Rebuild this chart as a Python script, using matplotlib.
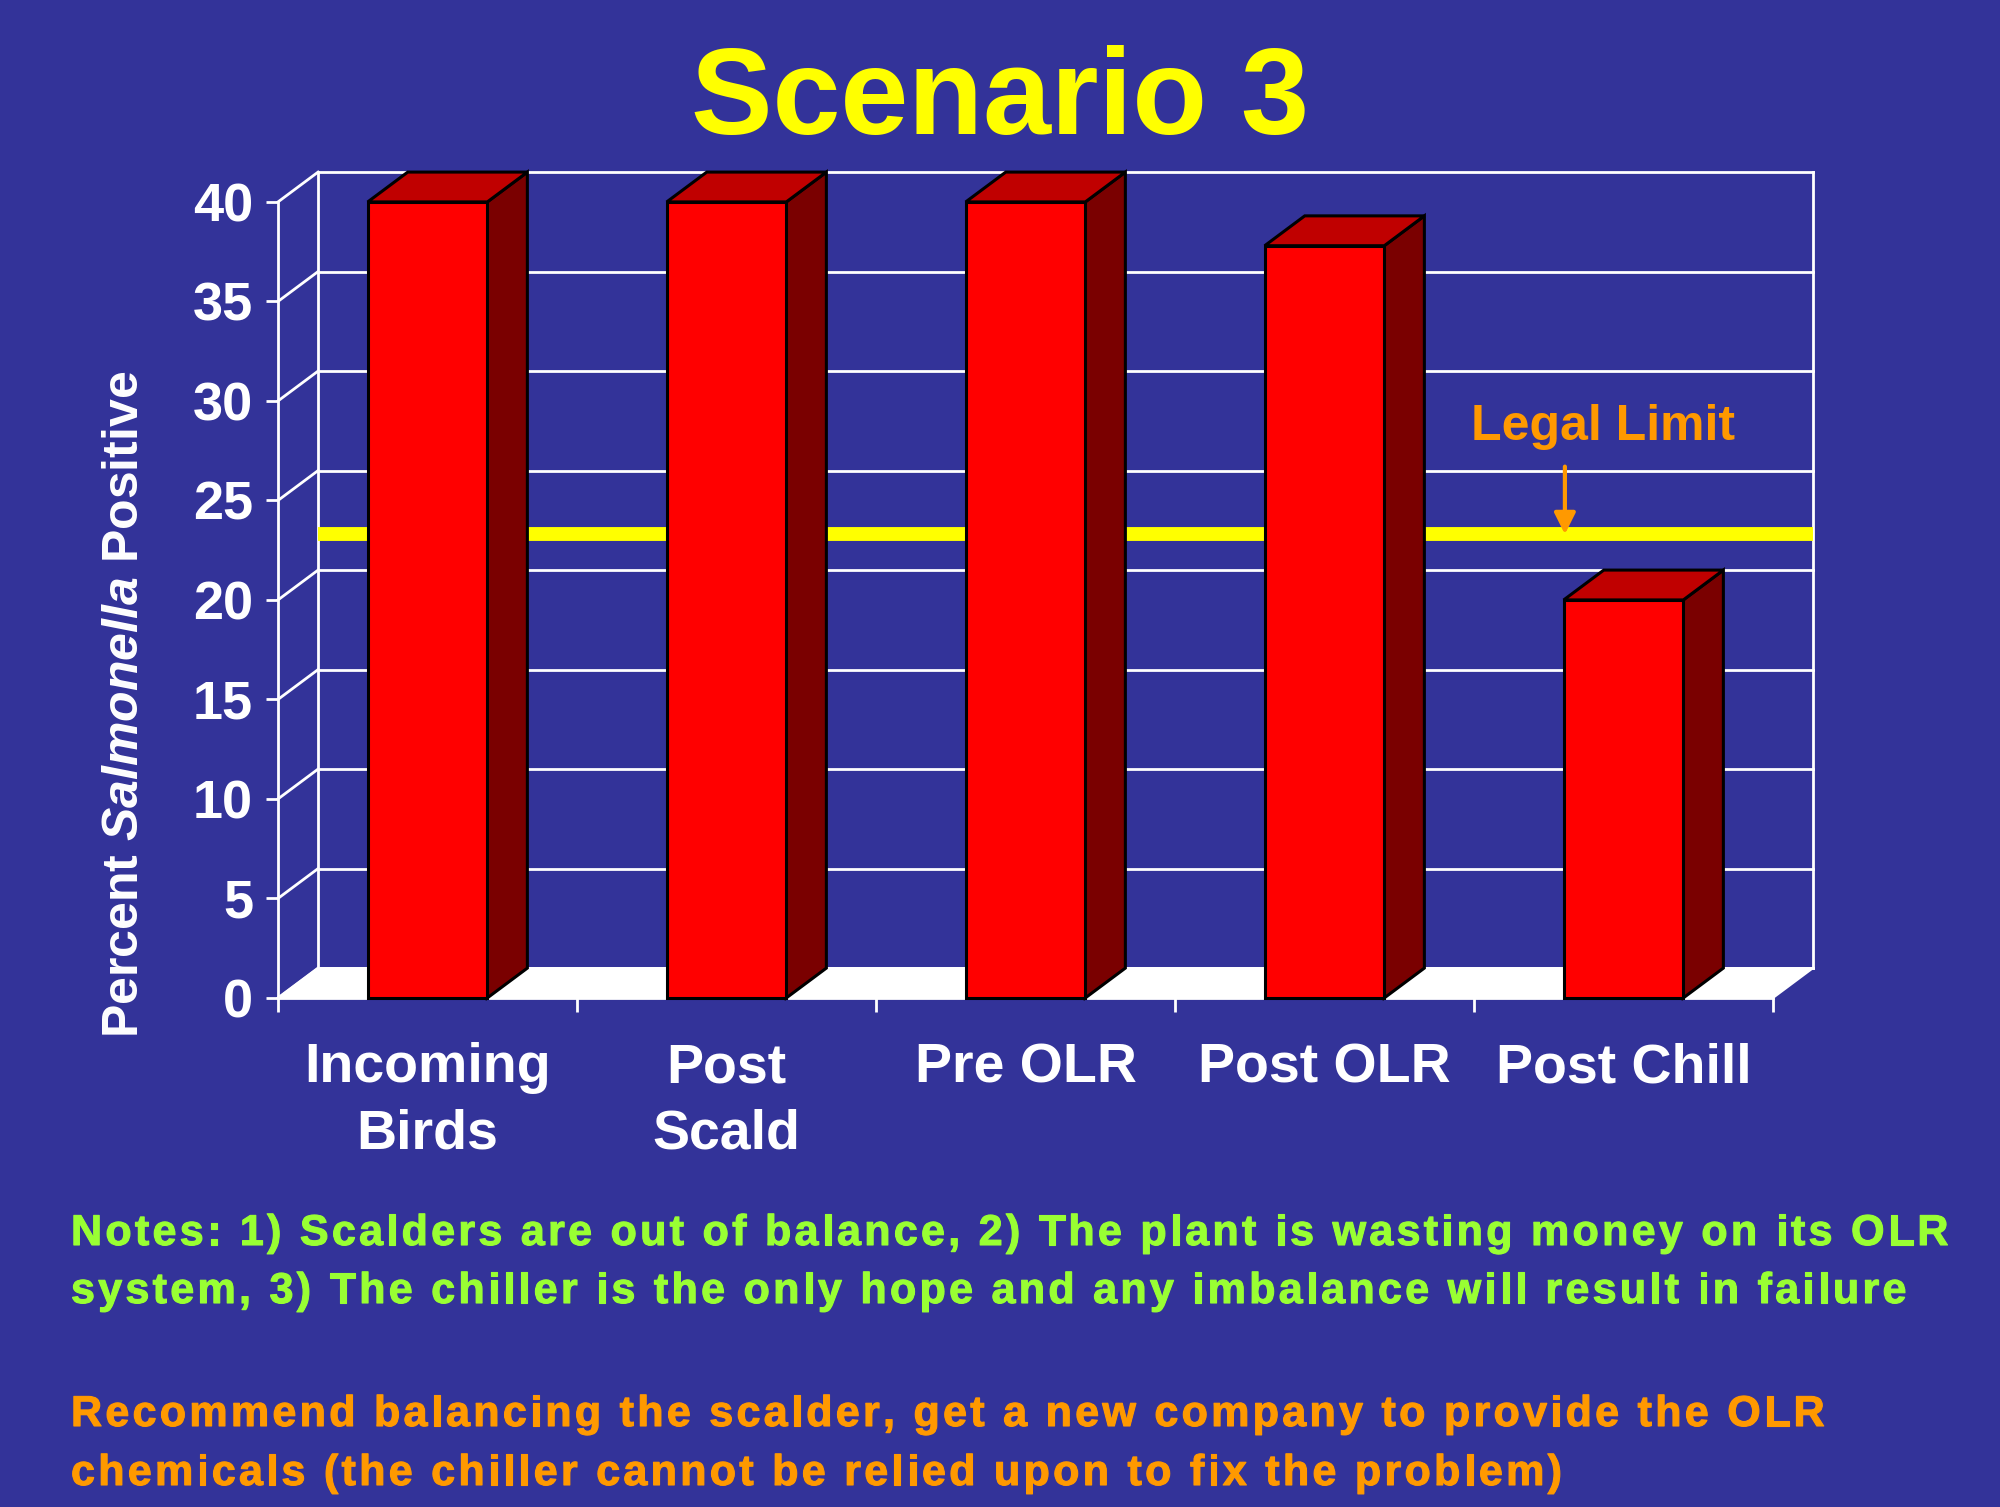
import matplotlib
matplotlib.use("Agg")
import matplotlib.pyplot as plt
from matplotlib.patches import Polygon, Rectangle
from matplotlib.font_manager import FontProperties, findfont
from matplotlib.ft2font import FT2Font
import matplotlib.patheffects as pe
import numpy as np

# ---------------- data ----------------
categories = ["Incoming\nBirds", "Post\nScald", "Pre OLR", "Post OLR", "Post Chill"]
percent_positive = [40, 40, 40, 37.8, 20]
legal_limit = 21.8
y_ticks = [0, 5, 10, 15, 20, 25, 30, 35, 40]
title = "Scenario 3"
legal_label = "Legal Limit"
notes_lines = [
    "Notes: 1) Scalders are out of balance, 2) The plant is wasting money on its OLR",
    "system, 3) The chiller is the only hope and any imbalance will result in failure",
]
recommend_lines = [
    "Recommend balancing the scalder, get a new company to provide the OLR",
    "chemicals (the chiller cannot be relied upon to fix the problem)",
]

# ---------------- style ----------------
BG = "#333399"
FRONT = "#FF0000"
TOP = "#C00000"
SIDE = "#7A0000"
YELLOW = "#FFFF00"
ORANGE = "#FF9900"
GREEN = "#99FF33"
DX, DY = 0.134, 1.5      # 3-D depth offset (data units)
BAR_W = 0.40
DPI = 100
NOTE_SIZE = 31
TRACK_PX = 3.3           # extra letter spacing of the notes (pixels)

plt.rcParams['font.family'] = ['Liberation Sans', 'DejaVu Sans']
plt.rcParams['mathtext.fontset'] = 'custom'
plt.rcParams['mathtext.it'] = 'Liberation Sans:italic:bold'
plt.rcParams['mathtext.rm'] = 'Liberation Sans:bold'
plt.rcParams['mathtext.bf'] = 'Liberation Sans:bold'

fig = plt.figure(figsize=(20, 15.07), dpi=DPI, facecolor=BG)
W_PX, H_PX = 2000, 1507
ax = fig.add_axes([0.139, 0.3378, 0.7475, 0.5282])
ax.set_facecolor('none')
n = len(categories)
ax.set_xlim(0, n)
ax.set_ylim(0, 40)

# back wall + left wall gridlines
for t in y_ticks:
    ax.plot([DX, n + DX], [t + DY, t + DY], color='white', lw=2, zorder=1, clip_on=False)
    ax.plot([0, DX], [t, t + DY], color='white', lw=2, zorder=1, clip_on=False)
for xb in (DX, n + DX):
    ax.plot([xb, xb], [DY, y_ticks[-1] + DY], color='white', lw=2, zorder=1, clip_on=False)

# legal limit line on the back wall
ax.plot([DX, n + DX], [legal_limit + DY] * 2, color=YELLOW, lw=10,
        solid_capstyle='butt', zorder=2, clip_on=False)

# floor
ax.add_patch(Polygon([(0, 0), (n, 0), (n + DX, DY), (DX, DY)], closed=True,
                     facecolor='white', edgecolor='white', lw=1.5, zorder=1.5, clip_on=False))

# 3-D bars
for i, v in enumerate(percent_positive):
    x0 = i + 0.5 - BAR_W / 2
    x1 = x0 + BAR_W
    ax.add_patch(Polygon([(x1, 0), (x1 + DX, DY), (x1 + DX, v + DY), (x1, v)], closed=True,
                         facecolor=SIDE, edgecolor='black', lw=2.2, joinstyle='miter',
                         zorder=5, clip_on=False))
    ax.add_patch(Polygon([(x0, v), (x1, v), (x1 + DX, v + DY), (x0 + DX, v + DY)], closed=True,
                         facecolor=TOP, edgecolor='black', lw=2.2, joinstyle='miter',
                         zorder=5, clip_on=False))
    ax.add_patch(Rectangle((x0, 0), BAR_W, v, facecolor=FRONT, edgecolor='black', lw=2.2,
                           joinstyle='miter', zorder=6, clip_on=False))

# spines / ticks
for s in ('top', 'right'):
    ax.spines[s].set_visible(False)
for s in ('left', 'bottom'):
    ax.spines[s].set_color('white')
    ax.spines[s].set_linewidth(2)

ax.set_yticks(y_ticks, labels=[str(t) for t in y_ticks], fontsize=39,
              fontweight='bold', color='white')
ax.tick_params(axis='y', colors='white', width=2, length=9, pad=9)

ax.set_xticks(np.arange(n) + 0.5, labels=categories, fontsize=40,
              fontweight='bold', color='white', linespacing=1.35)
ax.set_xticks(np.arange(n + 1), minor=True)
ax.tick_params(axis='x', which='major', length=0, pad=32)
ax.tick_params(axis='x', which='minor', length=10, width=2, colors='white', direction='out')

# legal limit annotation
ax.text(4.43, 28.7, legal_label, color=ORANGE, fontsize=36, fontweight='bold',
        ha='center', va='center', zorder=7)
ax.annotate('', xy=(4.304, legal_limit + DY), xytext=(4.304, 26.7),
            arrowprops=dict(arrowstyle='-|>', color=ORANGE, lw=3, mutation_scale=32,
                            shrinkA=0, shrinkB=0), zorder=7)

# y label
fig.text(0.0625, 0.5328, "Percent $\\mathit{Salmonella}$ Positive", rotation=90,
         ha='center', va='center', fontsize=36, fontweight='bold', color='white')

# title
fig.text(0.5, 1 - 134 / H_PX, title, ha='center', va='baseline', fontsize=88,
         fontweight='bold', color=YELLOW)

# notes, drawn character by character with extra letter spacing
note_prop = FontProperties(family='Liberation Sans', weight='bold', size=NOTE_SIZE)
ft = FT2Font(findfont(note_prop))
ft.set_size(NOTE_SIZE, DPI)


def advance(ch):
    g = ft.load_char(ord(ch))
    return g.linearHoriAdvance / 65536.0


def tracked_text(x_px, baseline_px, s, color):
    x = x_px
    for ch in s:
        if ch != ' ':
            fig.text(x / W_PX, 1 - baseline_px / H_PX, ch, ha='left', va='baseline',
                     fontproperties=note_prop, color=color,
                     path_effects=[pe.withStroke(linewidth=0.8, foreground=color)])
        x += advance(ch) + TRACK_PX


for k, line in enumerate(notes_lines):
    tracked_text(71, 1245 + 58 * k, line, GREEN)
for k, line in enumerate(recommend_lines):
    tracked_text(71, 1426 + 59 * k, line, ORANGE)

fig.savefig("out.png", dpi=DPI, facecolor=BG)
